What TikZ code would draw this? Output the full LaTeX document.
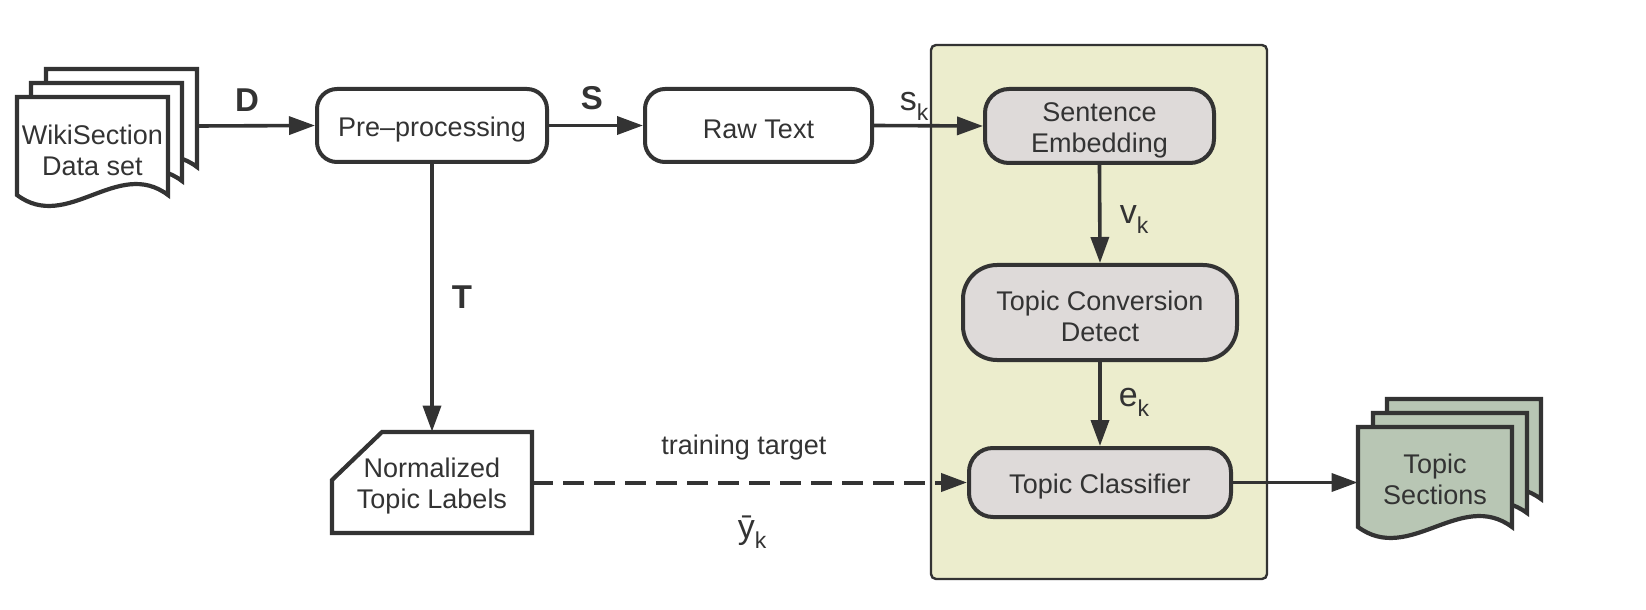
\documentclass[tikz,border=0pt]{standalone}
\usepackage{fontspec}
\setmainfont{Liberation Sans}
\usetikzlibrary{arrows.meta}
\definecolor{ink}{HTML}{333333}
\definecolor{boxgray}{HTML}{DEDAD9}
\definecolor{panelfill}{HTML}{ECEDCD}
\definecolor{secfill}{HTML}{B8C6B4}
\newcommand\lbl[2]{{\fontsize{17}{17}\selectfont #1}\raisebox{-5pt}{\fontsize{11.5}{11.5}\selectfont #2}}
\newcommand\lowtxt[1]{\raisebox{-2pt}[\height][\depth]{#1}}
\newcommand\docpage[5]{%
  \filldraw[docline, fill=#5] (#1,#2) -- ({#1+#3},#2) -- ({#1+#3},{#2+#4})
    .. controls ({#1+2*#3/3},{#2+#4-38}) and ({#1+#3/3},{#2+#4+38}) .. (#1,{#2+#4}) -- cycle;}
\begin{document}
\begin{tikzpicture}[x=0.5pt,y=-0.5pt,
  every node/.style={text=ink, font=\fontsize{13.5}{15.5}\selectfont, align=center, inner sep=0pt},
  proc/.style={draw=ink, line width=2pt, fill=white, rounded corners=10pt},
  innerbox/.style={proc, fill=boxgray, rounded corners=12pt},
  docline/.style={draw=ink, line width=2.1pt, line join=miter},
  arr/.style={draw=ink, line width=1.8pt, -{Triangle[length=13pt,width=9pt]}},
  biglbl/.style={font=\fontsize{16.5}{16.5}\selectfont\bfseries},
]
\useasboundingbox (0,0) rectangle (1646,610);

% panel
\node[draw=ink, line width=1.2pt, fill=panelfill, rounded corners=2.5pt,
      minimum width=168pt, minimum height=267pt] (panel) at (1099,312) {};

% WikiSection stack
\docpage{46}{69}{151}{98}{white}
\docpage{31}{83}{151}{98}{white}
\docpage{17}{97}{151}{98}{white}
\node[minimum width=75.5pt, minimum height=49pt] (wiki) at (92.5,146) {\lowtxt{WikiSection}\\\lowtxt{Data set}};
\coordinate (wikiout) at (197,126);

% Topic sections stack
\docpage{1387}{399}{154}{100}{secfill}
\docpage{1373}{413}{154}{100}{secfill}
\docpage{1358}{427}{154}{100}{secfill}
\node[minimum width=77pt, minimum height=50pt] (secs) at (1435,475) {\lowtxt{Topic}\\\lowtxt{Sections}};

% Normalized topic labels
\filldraw[docline, fill=white] (382,432) -- (532,432) -- (532,533) -- (332,533) -- (332,480) -- cycle;
\node[minimum width=100pt, minimum height=50.5pt] (norm) at (432,482.5) {\lowtxt{Normalized}\\\lowtxt{Topic Labels}};

% process boxes
\node[proc, minimum width=115pt, minimum height=36.5pt] (pre) at (432,125.5) {\lowtxt{Pre–processing}};
\node[proc, minimum width=113.5pt, minimum height=36.5pt] (raw) at (758.5,125.5) {\lowtxt{Raw Text}};
\node[innerbox, minimum width=114.5pt, minimum height=37pt] (emb) at (1099.5,126) {\lowtxt{Sentence}\\\lowtxt{Embedding}};
\node[innerbox, rounded corners=17pt, minimum width=137pt, minimum height=47.5pt] (tcd) at (1100,312.5) {\lowtxt{Topic Conversion}\\\lowtxt{Detect}};
\node[innerbox, minimum width=131pt, minimum height=34.5pt] (cls) at (1100,482.5) {\lowtxt{Topic Classifier}};

% connectors
\draw[arr] (wikiout) -- (pre.west);
\draw[arr] (pre.east) -- (raw.west);
\draw[arr] (raw.east) -- (emb.west);
\draw[arr] (emb.south) -- (tcd.north);
\draw[arr] (tcd.south) -- (cls.north);
\draw[arr] (pre.south) -- (norm.north);
\draw[arr, line width=2pt, dash pattern=on 10.5pt off 5pt] (norm.east) -- (cls.west);
\draw[arr] (cls.east) -- (cls.east -| secs.west);

% labels
\node[biglbl] (lD) at (247,100) {D};
\node[biglbl] (lS) at (592,98) {S};
\node[biglbl] (lT) at (462,297) {T};
\node (lsk) at (914,106) {\lbl{s}{k}};
\node (lvk) at (1134,220) {\lbl{v}{k}};
\node (lek) at (1134,402) {\lbl{e}{k}};
\node (ltt) at (744,448) {training target};
\node (lyk) at (752,532) {\lbl{ȳ}{k}};
\end{tikzpicture}
\end{document}
